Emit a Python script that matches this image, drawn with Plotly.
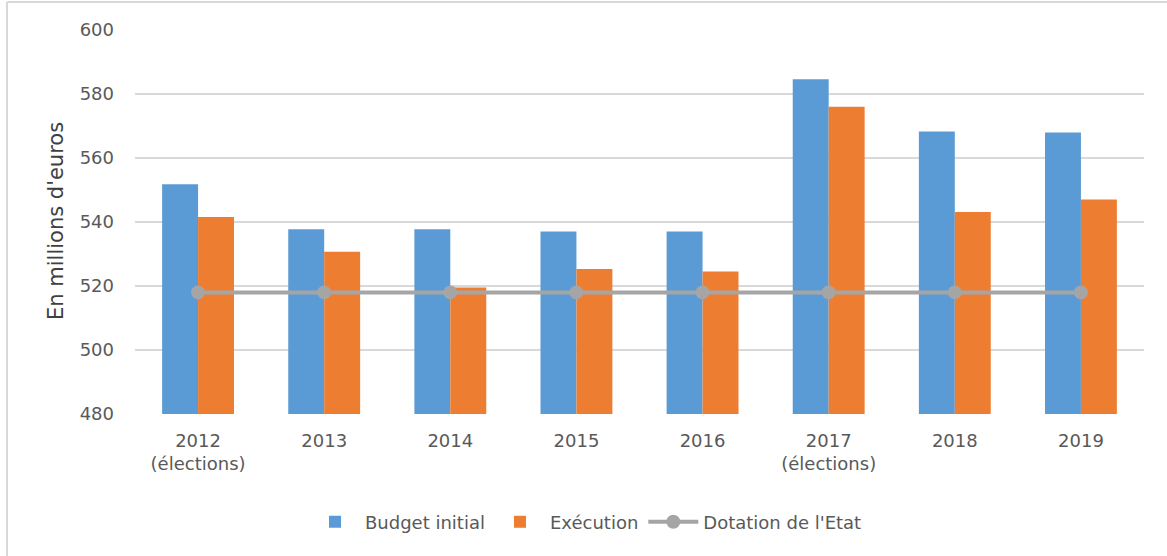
import plotly.graph_objects as go

categories = ["2012<br>(élections)", "2013", "2014", "2015", "2016", "2017<br>(élections)", "2018", "2019"]
budget_initial = [551.8, 537.7, 537.7, 537.0, 537.0, 584.6, 568.3, 568.0]
execution = [541.6, 530.7, 519.5, 525.3, 524.5, 576.0, 543.1, 547.0]
dotation = [518.0, 518.0, 518.0, 518.0, 518.0, 518.0, 518.0, 518.0]
y_ticks = [480, 500, 520, 540, 560, 580, 600]

FONT = "DejaVu Sans, Verdana, sans-serif"
TXT = "#595959"
FS = 18

fig = go.Figure()
fig.add_trace(go.Bar(name="Budget initial", x=categories, y=budget_initial,
                     marker=dict(color="#5b9bd5", line=dict(width=0))))
fig.add_trace(go.Bar(name="Exécution", x=categories, y=execution,
                     marker=dict(color="#ed7d31", line=dict(width=0))))
fig.add_trace(go.Scatter(name="Dotation de l'Etat", x=categories, y=dotation,
                         mode="lines+markers",
                         line=dict(color="#a5a5a5", width=4),
                         marker=dict(color="#a5a5a5", size=14)))

W, H = 1167, 556
L, R, T, B = 135, 23, 30, 142
pw, ph = W - L - R, H - T - B

def px_x(x):
    return (x - L) / pw

def px_y(y):
    return (H - B - y) / ph

fig.update_layout(
    width=W, height=H,
    margin=dict(l=L, r=R, t=T, b=B),
    paper_bgcolor="white", plot_bgcolor="white",
    barmode="group", bargap=0.43, bargroupgap=0,
    font=dict(family=FONT, size=FS, color=TXT),
    showlegend=True,
    legend=dict(orientation="h", x=px_x(586), xanchor="center",
                y=px_y(522), yanchor="middle",
                font=dict(family=FONT, size=FS, color=TXT),
                itemwidth=50, traceorder="normal"),
    xaxis=dict(showgrid=False, showline=False, ticks="", ticklabelstandoff=14,
               tickfont=dict(family=FONT, size=FS, color=TXT)),
    yaxis=dict(range=[480, 600], tickvals=y_ticks, showgrid=True,
               gridcolor="#d9d9d9", gridwidth=1.5, zeroline=False,
               showline=False, ticks="", ticklabelstandoff=20,
               tickfont=dict(family=FONT, size=FS, color=TXT)),
    annotations=[dict(text="En millions d'euros", textangle=-90,
                      xref="paper", yref="paper", x=px_x(56), y=px_y(221),
                      xanchor="center", yanchor="middle", showarrow=False,
                      font=dict(family=FONT, size=21, color="#404040"))],
    shapes=[
        dict(type="line", xref="paper", yref="paper",
             x0=px_x(7), x1=px_x(7), y0=px_y(2), y1=px_y(H + 5),
             line=dict(color="#d9d9d9", width=2)),
        dict(type="line", xref="paper", yref="paper",
             x0=px_x(7), x1=px_x(W + 5), y0=px_y(2), y1=px_y(2),
             line=dict(color="#d9d9d9", width=2)),
    ],
)

fig.write_html("out.html", config={"displayModeBar": False},
               post_script="document.body.style.margin='0';document.body.style.overflow='hidden';")
